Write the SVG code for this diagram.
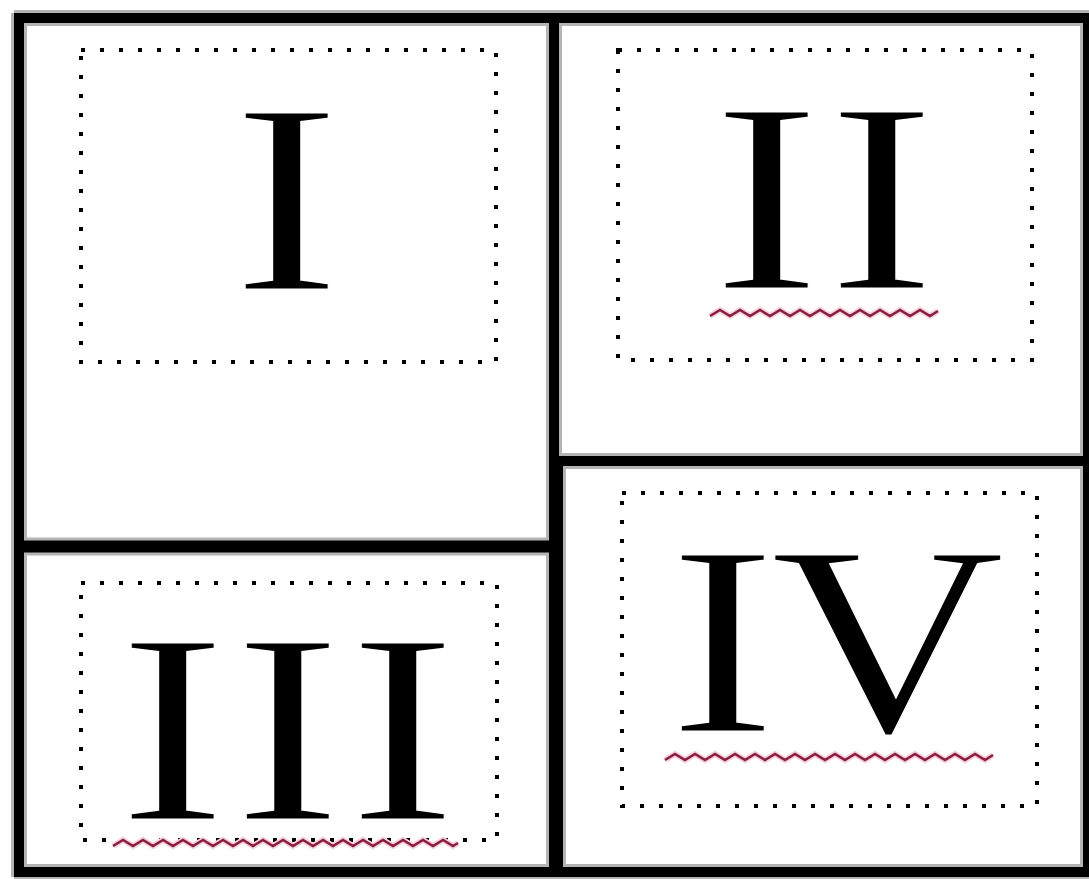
<svg xmlns="http://www.w3.org/2000/svg" width="1089" height="879" viewBox="0 0 1089 879">
<style>
.halo{stroke:#b4b4b4;stroke-width:16;fill:none}
.bar{stroke:#000;stroke-width:10;fill:none}
.dots{fill:none;stroke:#000;stroke-width:4;stroke-dasharray:4 15}
.num{font-family:"Liberation Serif","Times New Roman",serif;font-size:272px;fill:#000;stroke:#fff;stroke-width:3}
.wglow{fill:none;stroke:#f6d3dc;stroke-width:6;stroke-linejoin:miter}
.wave{fill:none;stroke:#8a1c40;stroke-width:2.5;stroke-linejoin:miter}
</style>
<rect x="0" y="0" width="1089" height="879" fill="#ffffff"/>
<g id="connectors">
  <g id="frame-halo">
    <line class="halo" x1="14" y1="18" x2="1089" y2="18"/>
    <line class="halo" x1="19" y1="13" x2="19" y2="877"/>
    <line class="halo" x1="14" y1="872" x2="1089" y2="872"/>
    <line class="halo" x1="1088" y1="13" x2="1088" y2="877"/>
    <line class="halo" x1="554" y1="13" x2="554" y2="461"/>
    <line class="halo" x1="556" y1="461" x2="556" y2="877" style="stroke-width:20"/>
    <line class="halo" x1="14" y1="546.5" x2="556" y2="546.5" style="stroke-width:18"/>
    <line class="halo" x1="554" y1="461" x2="1089" y2="461"/>
  </g>
  <g id="frame">
    <line class="bar" x1="14" y1="18" x2="1089" y2="18"/>
    <line class="bar" x1="19" y1="13" x2="19" y2="877"/>
    <line class="bar" x1="14" y1="872" x2="1089" y2="872"/>
    <line class="bar" x1="1088" y1="13" x2="1088" y2="877"/>
    <line class="bar" x1="554" y1="13" x2="554" y2="461"/>
    <line class="bar" x1="556" y1="456" x2="556" y2="877" style="stroke-width:14"/>
    <line class="bar" x1="14" y1="546.5" x2="556" y2="546.5" style="stroke-width:12"/>
    <line class="bar" x1="554" y1="461" x2="1089" y2="461"/>
  </g>
</g>
<g id="panel-I">
  <rect class="dots" x="81" y="50" width="415" height="312"/>
  <text class="num" transform="scale(1.2 1)" x="193.5" y="290">I</text>
</g>
<g id="panel-II">
  <rect class="dots" x="618" y="50" width="414" height="310"/>
  <text class="num" transform="scale(1.2 1)" x="593.5 689.4" y="289">II</text>
  <path class="wglow" d="M710 316 l10 -6 l10 6 l10 -6 l10 6 l10 -6 l10 6 l10 -6 l10 6 l10 -6 l10 6 l10 -6 l10 6 l10 -6 l10 6 l10 -6 l10 6 l10 -6 l10 6 l10 -6 l10 6 l10 -6 l10 6 l8 -5"/>
  <path class="wave" d="M710 316 l10 -6 l10 6 l10 -6 l10 6 l10 -6 l10 6 l10 -6 l10 6 l10 -6 l10 6 l10 -6 l10 6 l10 -6 l10 6 l10 -6 l10 6 l10 -6 l10 6 l10 -6 l10 6 l10 -6 l10 6 l8 -5"/>
</g>
<g id="panel-III">
  <rect class="dots" x="81" y="583" width="416" height="257"/>
  <text class="num" transform="scale(1.2 1)" x="98.5 194.4 290.2" y="820">III</text>
  <path class="wglow" d="M113 846 l10 -6 l10 6 l10 -6 l10 6 l10 -6 l10 6 l10 -6 l10 6 l10 -6 l10 6 l10 -6 l10 6 l10 -6 l10 6 l10 -6 l10 6 l10 -6 l10 6 l10 -6 l10 6 l10 -6 l10 6 l10 -6 l10 6 l10 -6 l10 6 l10 -6 l10 6 l10 -6 l10 6 l10 -6 l10 6 l10 -6 l10 6 l5 -3"/>
  <path class="wave" d="M113 846 l10 -6 l10 6 l10 -6 l10 6 l10 -6 l10 6 l10 -6 l10 6 l10 -6 l10 6 l10 -6 l10 6 l10 -6 l10 6 l10 -6 l10 6 l10 -6 l10 6 l10 -6 l10 6 l10 -6 l10 6 l10 -6 l10 6 l10 -6 l10 6 l10 -6 l10 6 l10 -6 l10 6 l10 -6 l10 6 l10 -6 l10 6 l5 -3"/>
</g>
<g id="panel-IV">
  <rect class="dots" x="622" y="493" width="415" height="313"/>
  <text class="num" transform="scale(1.2 1)" x="556.9 641.6" y="732">IV</text>
  <path class="wglow" d="M665 760 l10 -6 l10 6 l10 -6 l10 6 l10 -6 l10 6 l10 -6 l10 6 l10 -6 l10 6 l10 -6 l10 6 l10 -6 l10 6 l10 -6 l10 6 l10 -6 l10 6 l10 -6 l10 6 l10 -6 l10 6 l10 -6 l10 6 l10 -6 l10 6 l10 -6 l10 6 l10 -6 l10 6 l10 -6 l10 6 l8 -5"/>
  <path class="wave" d="M665 760 l10 -6 l10 6 l10 -6 l10 6 l10 -6 l10 6 l10 -6 l10 6 l10 -6 l10 6 l10 -6 l10 6 l10 -6 l10 6 l10 -6 l10 6 l10 -6 l10 6 l10 -6 l10 6 l10 -6 l10 6 l10 -6 l10 6 l10 -6 l10 6 l10 -6 l10 6 l10 -6 l10 6 l10 -6 l10 6 l8 -5"/>
</g>
</svg>
